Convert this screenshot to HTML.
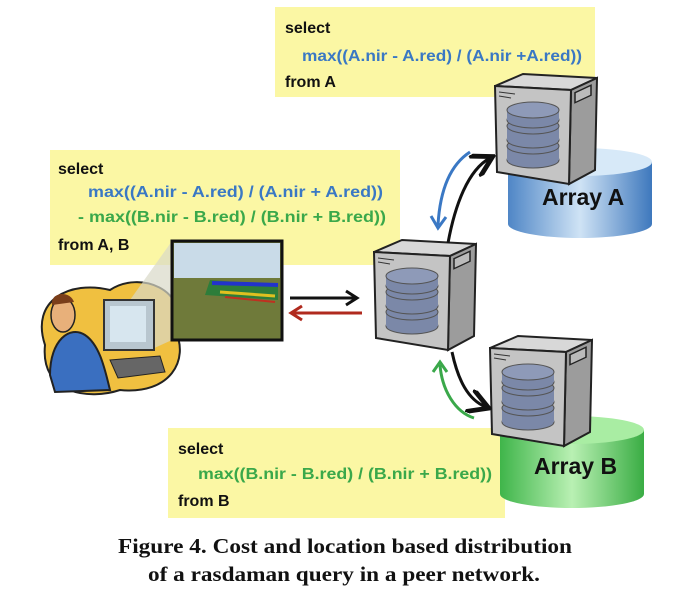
<!DOCTYPE html>
<html><head><style>
html,body{margin:0;padding:0;background:#fff;}
svg{display:block;}
text{font-family:"Liberation Sans",Arial,sans-serif;font-weight:bold;}
</style></head><body>
<svg width="694" height="606" viewBox="0 0 694 606" xmlns="http://www.w3.org/2000/svg">
<defs>
<linearGradient id="ca" x1="0" x2="1"><stop offset="0" stop-color="#4f86c6"/><stop offset="0.5" stop-color="#cfe3f5"/><stop offset="1" stop-color="#3e78bd"/></linearGradient>
<linearGradient id="cb" x1="0" x2="1"><stop offset="0" stop-color="#3fb54a"/><stop offset="0.5" stop-color="#b9f0b3"/><stop offset="1" stop-color="#3aad44"/></linearGradient>
<g id="srv">
<polygon points="0,14 28,2 102,6 76,18" fill="#d8d8d8" stroke="#222" stroke-width="2"/>
<polygon points="76,18 102,6 100,98 74,112" fill="#9c9c9c" stroke="#222" stroke-width="2"/>
<polygon points="0,14 76,18 74,112 2,100" fill="#c4c4c4" stroke="#222" stroke-width="2"/>
<rect x="80" y="20" width="16" height="10" fill="#bbb" stroke="#222" stroke-width="1.5" transform="skewY(-25) translate(0,38)"/>
<line x1="4" y1="20" x2="20" y2="22" stroke="#333"/><line x1="4" y1="24" x2="16" y2="26" stroke="#333"/>
<g fill="#7b88a8" stroke="#555" stroke-width="1">
<ellipse cx="38" cy="88" rx="26" ry="8"/><rect x="12" y="74" width="52" height="14" stroke="none"/><ellipse cx="38" cy="74" rx="26" ry="8"/>
<ellipse cx="38" cy="68" rx="26" ry="8"/><rect x="12" y="54" width="52" height="14" stroke="none"/><ellipse cx="38" cy="54" rx="26" ry="8"/>
<ellipse cx="38" cy="48" rx="26" ry="8"/><rect x="12" y="38" width="52" height="10" stroke="none"/><ellipse cx="38" cy="38" rx="26" ry="8" fill="#8e9ab8"/>
</g>
</g>
<marker id="ak" markerWidth="8" markerHeight="8" refX="6" refY="4" orient="auto"><path d="M0,0 L7,4 L0,8" fill="none" stroke="#111" stroke-width="1.6"/></marker>
</defs>

<rect x="275" y="7" width="320" height="90" fill="#fbf7a4"/>
<rect x="50" y="150" width="350" height="115" fill="#fbf7a4"/>
<rect x="168" y="428" width="337" height="90" fill="#fbf7a4"/>

<path d="M508,162 v62 a72,14 0 0 0 144,0 v-62" fill="url(#ca)"/>
<ellipse cx="580" cy="162" rx="72" ry="14" fill="#d7e9f8"/>
<path d="M500,430 v64 a72,14 0 0 0 144,0 v-64" fill="url(#cb)"/>
<ellipse cx="572" cy="430" rx="72" ry="14" fill="#a9eda3"/>
<text x="542" y="205" font-size="23" fill="#111">Array A</text>
<text x="534" y="474" font-size="23" fill="#111">Array B</text>

<use href="#srv" x="495" y="72"/>
<use href="#srv" x="374" y="238"/>
<use href="#srv" x="490" y="334"/>

<text x="285" y="33" font-size="16" fill="#111">select</text>
<text x="302" y="61" font-size="16" fill="#3a78c4" textLength="280" lengthAdjust="spacingAndGlyphs">max((A.nir - A.red) / (A.nir +A.red))</text>
<text x="285" y="87" font-size="16" fill="#111">from A</text>
<text x="58" y="174" font-size="16" fill="#111">select</text>
<text x="88" y="197" font-size="16" fill="#3a78c4" textLength="295" lengthAdjust="spacingAndGlyphs">max((A.nir - A.red) / (A.nir + A.red))</text>
<text x="78" y="222" font-size="16" fill="#3aa84a" textLength="308" lengthAdjust="spacingAndGlyphs">- max((B.nir - B.red) / (B.nir + B.red))</text>
<text x="58" y="250" font-size="16" fill="#111">from A, B</text>
<text x="178" y="454" font-size="16" fill="#111">select</text>
<text x="198" y="479" font-size="16" fill="#3aa84a" textLength="294" lengthAdjust="spacingAndGlyphs">max((B.nir - B.red) / (B.nir + B.red))</text>
<text x="178" y="506" font-size="16" fill="#111">from B</text>

<path d="M448,243 C455,205 468,170 490,158" fill="none" stroke="#111" stroke-width="3" marker-end="url(#ak)"/>
<path d="M470,152 C450,165 440,190 438,225" fill="none" stroke="#3a78c4" stroke-width="3"/>
<path d="M431,216 L438,228 L446,217" fill="none" stroke="#3a78c4" stroke-width="3"/>
<path d="M452,352 C458,380 468,400 486,407" fill="none" stroke="#111" stroke-width="3" marker-end="url(#ak)"/>
<path d="M474,418 C455,412 442,390 440,365" fill="none" stroke="#3aa84a" stroke-width="3"/>
<path d="M433,372 L440,362 L447,372" fill="none" stroke="#3aa84a" stroke-width="3"/>
<line x1="290" y1="298" x2="356" y2="298" stroke="#111" stroke-width="3"/>
<path d="M346,291 L357,298 L346,305" fill="none" stroke="#111" stroke-width="3"/>
<line x1="292" y1="313" x2="362" y2="313" stroke="#b02a1e" stroke-width="3"/>
<path d="M302,306 L291,313 L302,320" fill="none" stroke="#b02a1e" stroke-width="3"/>

<path d="M45,345 C30,300 70,280 110,290 C140,270 190,290 175,330 C190,360 170,395 120,390 C90,400 40,395 45,345 Z" fill="#f0c040" stroke="#222" stroke-width="2"/>
<polygon points="130,300 172,241 172,340 150,350" fill="#d8d8c8" opacity="0.7"/>
<rect x="104" y="300" width="50" height="50" fill="#b8c6cf" stroke="#333" stroke-width="2"/>
<rect x="110" y="306" width="36" height="36" fill="#d7e6ef"/>
<path d="M110,360 L160,356 L165,372 L118,378 Z" fill="#666" stroke="#222"/>
<path d="M50,375 C50,340 70,325 85,335 C100,345 105,370 110,390 L55,392 Z" fill="#3a6fc0" stroke="#222" stroke-width="2"/>
<ellipse cx="63" cy="315" rx="12" ry="17" fill="#e8b07a" stroke="#222" stroke-width="1.5"/>
<path d="M52,305 C50,292 70,290 74,302 Z" fill="#7a3e1a"/>
<rect x="172" y="241" width="110" height="99" fill="#6f7a3a" stroke="#111" stroke-width="3"/>
<rect x="174" y="243" width="106" height="35" fill="#c9dbe8"/>
<path d="M210,280 L278,285 L278,300 L205,295 Z" fill="#2e7d3a"/>
<path d="M212,283 L278,285" stroke="#2233cc" stroke-width="4"/>
<path d="M220,292 L275,296" stroke="#e0c020" stroke-width="3"/>
<path d="M225,297 L275,302" stroke="#c03020" stroke-width="2"/>

<text x="118" y="553" font-size="21" textLength="454" lengthAdjust="spacingAndGlyphs" style="font-family:'Liberation Serif',serif" fill="#111">Figure 4. Cost and location based distribution</text>
<text x="148" y="581" font-size="21" textLength="392" lengthAdjust="spacingAndGlyphs" style="font-family:'Liberation Serif',serif" fill="#111">of a rasdaman query in a peer network.</text>
</svg>
</body></html>
